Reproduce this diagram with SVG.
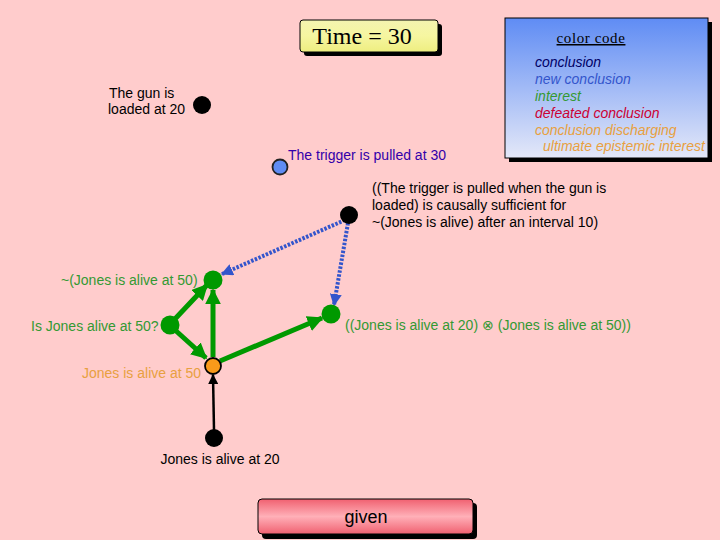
<svg xmlns="http://www.w3.org/2000/svg" width="720" height="540" viewBox="0 0 720 540">
<defs>
<linearGradient id="gy" x1="0" y1="0" x2="0" y2="1"><stop offset="0" stop-color="#f4f4b0"/><stop offset="0.5" stop-color="#f6f6a0"/><stop offset="1" stop-color="#eeee80"/></linearGradient>
<linearGradient id="gb" x1="0" y1="0" x2="0" y2="1"><stop offset="0" stop-color="#5f8cf4"/><stop offset="1" stop-color="#e4e8f8"/></linearGradient>
<linearGradient id="gr" x1="0" y1="0" x2="0" y2="1"><stop offset="0" stop-color="#f06070"/><stop offset="0.5" stop-color="#ffb0b8"/><stop offset="1" stop-color="#f06070"/></linearGradient>
<marker id="ag" viewBox="0 0 10 10" refX="9" refY="5" markerWidth="3.2" markerHeight="3.2" orient="auto" markerUnits="strokeWidth"><path d="M0,0L10,5L0,10z" fill="#009900"/></marker>
<marker id="ab" viewBox="0 0 10 10" refX="9" refY="5" markerWidth="3" markerHeight="3" orient="auto" markerUnits="strokeWidth"><path d="M0,0L10,5L0,10z" fill="#3355cc"/></marker>
<marker id="ak" viewBox="0 0 10 10" refX="9" refY="5" markerWidth="4" markerHeight="4" orient="auto" markerUnits="strokeWidth"><path d="M0,0L10,5L0,10z" fill="#000"/></marker>
</defs>
<style>
.t{font-family:"Liberation Sans",Arial,sans-serif;font-size:14px}
.g{fill:#339933}
.lg{stroke:#009900;stroke-width:5;fill:none}
.lb{stroke:#3355cc;stroke-width:4;stroke-dasharray:2.5 1.5;fill:none}
.it{font-family:"Liberation Sans",Arial,sans-serif;font-size:14px;font-style:italic}
</style>
<rect width="720" height="540" fill="#ffcccc"/>
<g id="time">
<rect x="304" y="24" width="138" height="32" rx="3" fill="#000"/>
<rect x="300" y="20" width="138" height="32" rx="3" fill="url(#gy)" stroke="#000" stroke-width="1"/>
<text x="362" y="44" text-anchor="middle" font-family="Liberation Serif,serif" font-size="24">Time = 30</text>
</g>
<g id="colorcode">
<rect x="509" y="22" width="203" height="140" fill="#000"/>
<rect x="505" y="18" width="203" height="140" fill="url(#gb)" stroke="#000" stroke-width="1"/>
<text x="591" y="43" text-anchor="middle" font-family="Liberation Serif,serif" font-size="15" letter-spacing="0.6" text-decoration="underline">color code</text>
<text class="it" x="535" y="67" fill="#000066">conclusion</text>
<text class="it" x="535" y="84" fill="#3355cc">new conclusion</text>
<text class="it" x="535" y="101" fill="#339933">interest</text>
<text class="it" x="535" y="118" fill="#cc0033">defeated conclusion</text>
<text class="it" x="535" y="135" fill="#e8a040">conclusion discharging</text>
<text class="it" x="543" y="151" fill="#e8a040">ultimate epistemic interest</text>
</g>
<g id="connectors">
<line class="lb" x1="345" y1="220" x2="222" y2="274" marker-end="url(#ab)"/>
<line class="lb" x1="348" y1="223" x2="334" y2="305" marker-end="url(#ab)"/>
<line class="lg" x1="174" y1="320" x2="207" y2="285" marker-end="url(#ag)"/>
<line class="lg" x1="175" y1="330" x2="206" y2="358" marker-end="url(#ag)"/>
<line class="lg" x1="213" y1="357" x2="213" y2="290" marker-end="url(#ag)"/>
<line class="lg" x1="220" y1="361" x2="322" y2="318" marker-end="url(#ag)"/>
<line x1="214" y1="430" x2="213" y2="375" stroke="#000" stroke-width="2.5" marker-end="url(#ak)"/>
</g>
<g id="gun"><circle cx="202" cy="105" r="9" fill="#000"/><text class="t" x="109" y="98">The gun is</text><text class="t" x="108" y="114">loaded at 20</text></g>
<g id="trigger"><circle cx="280" cy="167" r="7.5" fill="#5f8cf4" stroke="#222" stroke-width="1.8"/><text class="t" x="288" y="160" fill="#3300aa">The trigger is pulled at 30</text></g>
<g id="causal"><circle cx="349" cy="215" r="9" fill="#000"/><text class="t" x="372" y="193">((The trigger is pulled when the gun is</text><text class="t" x="372" y="210">loaded) is causally sufficient for</text><text class="t" x="372" y="227">~(Jones is alive) after an interval 10)</text></g>
<g id="notalive"><circle cx="213" cy="280" r="9.5" fill="#009900"/><text class="t g" x="61" y="285">~(Jones is alive at 50)</text></g>
<g id="question"><circle cx="170" cy="325" r="9.5" fill="#009900"/><text class="t g" x="31" y="331">Is Jones alive at 50?</text></g>
<g id="conj"><circle cx="331" cy="314" r="9.5" fill="#009900"/><text class="t g" x="345" y="330">((Jones is alive at 20) ⊗ (Jones is alive at 50))</text></g>
<g id="alive50"><circle cx="213" cy="366" r="8" fill="#f99a1a" stroke="#000" stroke-width="1.8"/><text class="t" x="82" y="378" fill="#e8a040">Jones is alive at 50</text></g>
<g id="alive20"><circle cx="214" cy="438" r="9" fill="#000"/><text class="t" x="220" y="464" text-anchor="middle">Jones is alive at 20</text></g>
<g id="given">
<rect x="262" y="503" width="215" height="36" rx="4" fill="#000"/>
<rect x="258" y="499" width="215" height="35" rx="4" fill="url(#gr)" stroke="#000" stroke-width="1"/>
<text x="366" y="523" text-anchor="middle" font-family="Liberation Sans,Arial,sans-serif" font-size="18">given</text>
</g>
</svg>
